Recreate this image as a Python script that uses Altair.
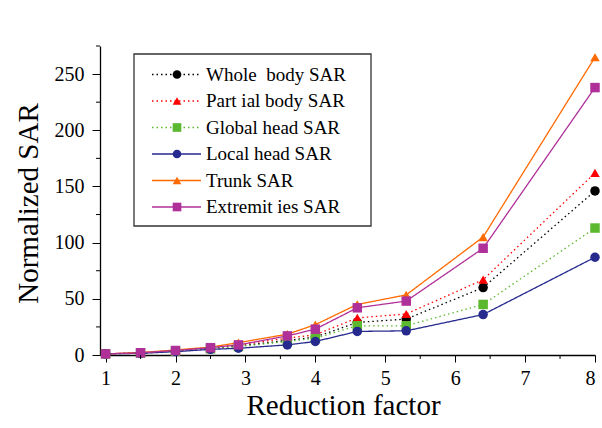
import altair as alt
import pandas as pd

# Reduction factors and normalized SAR for each series
reduction = [1, 1.5, 2, 2.5, 2.9, 3.6, 4, 4.6, 5.3, 6.4, 8]
whole_body = [1, 1.8, 3.5, 6, 8, 13, 16, 29, 32, 60, 146]
partial_body = [1, 2, 4, 6.5, 9, 15, 18, 33, 36.5, 67, 162]
global_head = [1, 1.7, 3.3, 5.5, 7.5, 12, 15, 26, 26, 45, 113]
local_head = [1, 1.5, 3, 5, 6, 9, 12, 21, 21.5, 36, 87]
trunk = [1, 2.2, 4.5, 7, 11, 18.5, 27, 45, 53.5, 105, 265]
extremities = [1, 2, 4, 6.5, 9, 17, 23, 42, 48, 95, 238]

names = [
    "Whole\u00a0 body SAR",
    "Part ial body SAR",
    "Global head SAR",
    "Local head SAR",
    "Trunk SAR",
    "Extremit ies SAR",
]
colors = ["#000000", "#ff0000", "#5cb82e", "#262a8e", "#ff6a00", "#b0309a"]
shapes = ["circle", "triangle-up", "square", "circle", "triangle-up", "square"]
dashes = [[1.5, 3], [1.5, 3], [1.5, 3], [1, 0], [1, 0], [1, 0]]

x_minor = [1.5, 2.5, 3.5, 4.5, 5.5, 6.5, 7.5]
y_minor = [25, 75, 125, 175, 225, 275]

series = [whole_body, partial_body, global_head, local_head, trunk, extremities]
rows = []
for i, (name, vals) in enumerate(zip(names, series)):
    for x, v in zip(reduction, vals):
        rows.append({"series": name, "order": i, "rf": x, "sar": v})
df = pd.DataFrame(rows)

legend_df = pd.DataFrame({"series": names, "row": list(range(len(names)))})

FONT = "Liberation Serif"

color_scale = alt.Scale(domain=names, range=colors)
shape_scale = alt.Scale(domain=names, range=shapes)
dash_scale = alt.Scale(domain=names, range=dashes)

x_enc = alt.X(
    "rf:Q",
    scale=alt.Scale(domain=[0.92, 8], nice=False, zero=False),
    axis=alt.Axis(
        values=[1, 2, 3, 4, 5, 6, 7, 8],
        format="d",
        title="Reduction factor",
        grid=False,
        tickSize=7,
        labelPadding=6,
        titleX=243,
        titleY=59,
        titleBaseline="alphabetic",
    ),
)
y_enc = alt.Y(
    "sar:Q",
    scale=alt.Scale(domain=[0, 275], nice=False),
    axis=alt.Axis(
        values=[0, 50, 100, 150, 200, 250],
        title="Normalized SAR",
        grid=False,
        tickSize=8,
        labelPadding=8,
        titleX=-72,
        titleY=157,
        titleAngle=-90,
        titleAlign="center",
        titleBaseline="middle",
    ),
)

enc_common = dict(
    color=alt.Color("series:N", scale=color_scale, legend=None),
    detail="series:N",
)

lines = alt.Chart(df).mark_line(strokeWidth=1.3).encode(
    x=x_enc,
    y=y_enc,
    strokeDash=alt.StrokeDash("series:N", scale=dash_scale, legend=None),
    order="rf:Q",
    **enc_common,
)

points = alt.Chart(df).mark_point(filled=True, opacity=1, size=90).encode(
    x="rf:Q",
    y="sar:Q",
    shape=alt.Shape("series:N", scale=shape_scale, legend=None),
    **enc_common,
)

# minor ticks on both axes
x_minor_ticks = alt.Chart(pd.DataFrame({"rf": x_minor})).mark_rule(
    color="black", strokeWidth=1
).encode(x="rf:Q", y=alt.value(309), y2=alt.value(313))

y_minor_ticks = alt.Chart(pd.DataFrame({"sar": y_minor})).mark_rule(
    color="black", strokeWidth=1
).encode(y="sar:Q", x=alt.value(0), x2=alt.value(-4))

# legend box
box = alt.Chart(pd.DataFrame({"k": [0]})).mark_rect(
    fill="white", stroke="#333333", strokeWidth=1.3
).encode(x=alt.value(34), x2=alt.value(271), y=alt.value(8), y2=alt.value(180))

leg_base = alt.Chart(legend_df).transform_calculate(ly="28.5 + 26.5 * datum.row")

leg_lines = leg_base.mark_rule(strokeWidth=1.3).encode(
    x=alt.value(52),
    x2=alt.value(101),
    y=alt.Y("ly:Q", scale=None),
    color=alt.Color("series:N", scale=color_scale, legend=None),
    strokeDash=alt.StrokeDash("series:N", scale=dash_scale, legend=None),
)
leg_points = leg_base.mark_point(filled=True, opacity=1, size=75).encode(
    x=alt.value(77),
    y=alt.Y("ly:Q", scale=None),
    color=alt.Color("series:N", scale=color_scale, legend=None),
    shape=alt.Shape("series:N", scale=shape_scale, legend=None),
)
leg_text = leg_base.mark_text(
    align="left", baseline="middle", font=FONT, fontSize=19, color="black"
).encode(
    x=alt.value(106),
    y=alt.Y("ly:Q", scale=None),
    text="series:N",
)

chart = (
    alt.layer(
        lines, points, x_minor_ticks, y_minor_ticks, box, leg_lines, leg_points, leg_text
    )
    .properties(
        width=495,
        height=309,
        autosize=alt.AutoSizeParams(type="none"),
        padding={"left": 100, "top": 46, "right": 7, "bottom": 73},
        background="white",
    )
    .configure_view(stroke=None)
    .configure_axis(
        domainColor="black",
        domainWidth=1.3,
        tickColor="black",
        tickWidth=1,
        labelFont=FONT,
        labelFontSize=20,
        labelColor="black",
        titleFont=FONT,
        titleFontSize=29,
        titleFontWeight="normal",
        titleColor="black",
    )
)

chart.save("out.html", embed_options={"renderer": "svg", "actions": False})
